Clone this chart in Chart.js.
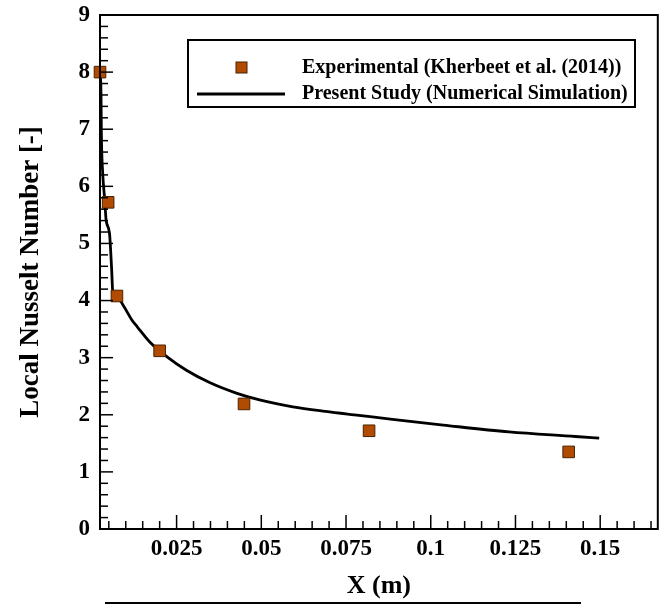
<!DOCTYPE html>
<html>
<head>
<meta charset="utf-8">
<script src="https://cdn.jsdelivr.net/npm/chart.js@4.4.1/dist/chart.umd.min.js"></script>
<style>
  body { margin: 0; background: #fff; }
  #wrap { width: 667px; height: 607px; position: relative; }
</style>
</head>
<body>
<div id="wrap"><canvas id="nusseltChart"></canvas></div>
<script>
// experimental points (Kherbeet et al. 2014)
let expX = [0.0024, 0.0048, 0.0074, 0.0200, 0.0449, 0.0818, 0.1407];
let expNu = [8.0, 5.72, 4.08, 3.12, 2.19, 1.72, 1.35];

// numerical simulation curve
let simX = [0.0025, 0.0027, 0.0028, 0.0032, 0.0038, 0.0042, 0.0052, 0.0058, 0.0062,
  0.0075, 0.0095, 0.0118, 0.0134, 0.0173, 0.0221, 0.0279, 0.0349, 0.0426, 0.0495,
  0.0593, 0.0689, 0.0788, 0.0887, 0.1037, 0.1231, 0.1427, 0.1497];
let simNu = [8.0, 7.6, 6.94, 6.23, 5.76, 5.41, 5.18, 4.59, 4.13,
  4.06, 3.89, 3.66, 3.54, 3.26, 3.02, 2.78, 2.56, 2.38, 2.26,
  2.14, 2.06, 1.99, 1.92, 1.82, 1.70, 1.62, 1.59];

let xTicks = [0.025, 0.05, 0.075, 0.1, 0.125, 0.15];
let xTickLabels = ["0.025", "0.05", "0.075", "0.1", "0.125", "0.15"];
let yTicks = [0, 1, 2, 3, 4, 5, 6, 7, 8, 9];
let yTickLabels = ["0", "1", "2", "3", "4", "5", "6", "7", "8", "9"];

const serif = "'Liberation Serif', 'Times New Roman', serif";

function toPoints(xs, ys) {
  return xs.map((x, i) => ({ x: x, y: ys[i] }));
}

// frame, inward ticks, legend box and the underline below the x title
const decorPlugin = {
  id: "decor",
  afterDraw(chart) {
    const ctx = chart.ctx;
    const area = chart.chartArea;
    const xs = chart.scales.x;
    const ys = chart.scales.y;
    ctx.save();
    ctx.strokeStyle = "#000";

    // y ticks (minor every 0.2)
    ctx.lineWidth = 1.5;
    for (let i = 1; i < 45; i++) {
      const py = ys.getPixelForValue(i / 5);
      const len = i % 5 == 0 ? 13 : 8;
      ctx.beginPath();
      ctx.moveTo(area.left, py);
      ctx.lineTo(area.left + len, py);
      ctx.stroke();
    }
    // x ticks (minor every 0.005)
    for (let i = 1; i * 0.005 < xs.max; i++) {
      const px = xs.getPixelForValue(i * 0.005);
      const len = i % 5 == 0 ? 14 : 8;
      ctx.beginPath();
      ctx.moveTo(px, area.bottom);
      ctx.lineTo(px, area.bottom - len);
      ctx.stroke();
    }

    ctx.lineWidth = 2;
    ctx.strokeRect(area.left, area.top, area.right - area.left, area.bottom - area.top);

    // legend
    const ds = chart.data.datasets;
    ctx.lineWidth = 2;
    ctx.strokeRect(188, 40, 447, 67);
    ctx.fillStyle = ds[0].backgroundColor;
    ctx.strokeStyle = ds[0].borderColor;
    ctx.lineWidth = 1;
    ctx.fillRect(236, 62, 11, 11);
    ctx.strokeRect(236, 62, 11, 11);
    ctx.strokeStyle = ds[1].borderColor;
    ctx.lineWidth = ds[1].borderWidth;
    ctx.beginPath();
    ctx.moveTo(197, 94);
    ctx.lineTo(285, 94);
    ctx.stroke();
    ctx.fillStyle = "#000";
    ctx.font = "bold 20px " + serif;
    ctx.textBaseline = "middle";
    ctx.textAlign = "left";
    ctx.fillText(ds[0].label, 302, 68);
    ctx.fillText(ds[1].label, 302, 94);

    // line under the x axis title
    ctx.strokeStyle = "#000";
    ctx.lineWidth = 2;
    ctx.beginPath();
    ctx.moveTo(105, 603);
    ctx.lineTo(581, 603);
    ctx.stroke();
    ctx.restore();
  }
};

let ctx = document.getElementById("nusseltChart").getContext("2d");
let chart1 = new Chart(ctx, {
  type: "scatter",
  data: {
    datasets: [
      {
        label: "Experimental (Kherbeet et al. (2014))",
        data: toPoints(expX, expNu),
        pointStyle: "rect",
        pointRadius: 8.2,
        pointHoverRadius: 8.2,
        backgroundColor: "#b24b02",
        borderColor: "#4a2200",
        borderWidth: 1,
        clip: false,
      },
      {
        label: "Present Study (Numerical Simulation)",
        data: toPoints(simX, simNu),
        showLine: true,
        pointRadius: 0,
        borderColor: "#000",
        borderWidth: 2.8,
        cubicInterpolationMode: "monotone",
        fill: false,
      },
    ],
  },
  options: {
    responsive: true,
    maintainAspectRatio: false,
    animation: false,
    layout: { padding: { left: 0, right: 4, top: 15, bottom: 0 } },
    plugins: {
      legend: { display: false },
      tooltip: { enabled: false },
    },
    scales: {
      x: {
        type: "linear",
        min: 0.0024,
        max: 0.167,
        grid: { display: false, drawTicks: false },
        border: { display: false },
        afterBuildTicks: (scale) => {
          scale.ticks = xTicks.map((v) => ({ value: v }));
        },
        afterFit: (scale) => {
          scale.height = 78;
          scale.paddingLeft = 0;
          scale.paddingRight = 0;
        },
        ticks: {
          padding: 6,
          color: "#000",
          maxRotation: 0,
          font: { family: serif, size: 23, weight: "bold" },
          callback: (v) => xTickLabels[xTicks.indexOf(v)],
        },
        title: {
          display: true,
          text: "X (m)",
          color: "#000",
          font: { family: serif, size: 26, weight: "bold" },
          padding: { top: 0, bottom: 5 },
        },
      },
      y: {
        type: "linear",
        min: 0,
        max: 9,
        grid: { display: false, drawTicks: false },
        border: { display: false },
        afterBuildTicks: (scale) => {
          scale.ticks = yTicks.map((v) => ({ value: v }));
        },
        afterFit: (scale) => {
          scale.width = 100;
          scale.paddingTop = 0;
          scale.paddingBottom = 0;
        },
        ticks: {
          padding: 10,
          color: "#000",
          font: { family: serif, size: 23, weight: "bold" },
          callback: (v) => yTickLabels[yTicks.indexOf(v)],
        },
        title: {
          display: true,
          text: "Local Nusselt Number [-]",
          color: "#000",
          font: { family: serif, size: 27, weight: "bold" },
          padding: { top: 15, bottom: 0 },
        },
      },
    },
  },
  plugins: [decorPlugin],
});
</script>
</body>
</html>
